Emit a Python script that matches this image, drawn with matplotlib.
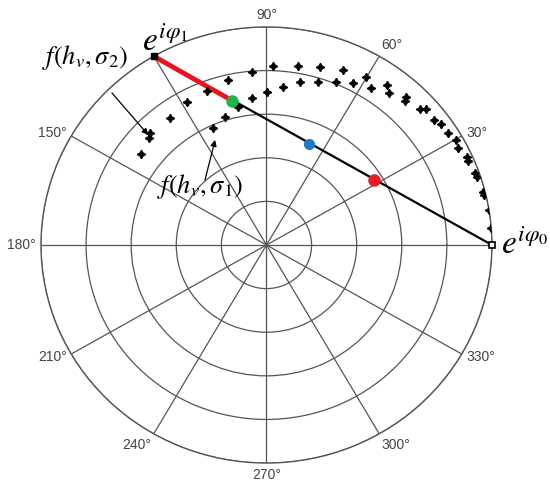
import numpy as np
import matplotlib
matplotlib.use('Agg')
import matplotlib.pyplot as plt

plt.rcParams['mathtext.fontset'] = 'stix'

# scattered points (angle in degrees, radius, outer circle = 1)
pts_theta = [94.6, 102.7, 110.5, 118.3, 126.3, 135.0, 136.5, 143.2,
             101.3, 107.4, 113.8, 95.4, 89.8, 84.2, 78.7, 73.0, 67.6,
             88.0, 80.3, 73.8, 67.1, 62.7, 60.2, 57.2, 53.9, 52.1, 47.6, 47.1,
             42.5, 41.4, 37.6, 35.6, 32.6, 29.8, 27.7, 24.4, 23.3, 19.6, 18.5,
             14.2, 13.4, 9.2, 4.5]
pts_r = [0.796, 0.776, 0.754, 0.745, 0.723, 0.728, 0.716, 0.696,
         0.646, 0.615, 0.587, 0.677, 0.702, 0.729, 0.762, 0.782, 0.809,
         0.822, 0.833, 0.850, 0.871, 0.836, 0.888, 0.856, 0.908, 0.884, 0.918, 0.902,
         0.923, 0.943, 0.938, 0.952, 0.955, 0.969, 0.959, 0.977, 0.973, 0.982, 0.984,
         0.990, 0.992, 1.0, 1.0]

# chord endpoints e^{i phi0}, e^{i phi1}
phi0 = 0.0
phi1 = 120.0
# coloured points on the chord (theta deg, r)
green_pt = (103.0, 0.68)
blue_pt = (68.0, 0.50)
red_pt = (32.0, 0.56)

rings = [0.2, 0.4, 0.6, 0.8, 1.0]
angles = np.arange(0, 360, 30)
# 0 and 120 are not labelled (the e^{i phi} labels sit there)
angle_labels = ['' if a in (0, 120) else '%d\u00b0' % a for a in angles]

fig = plt.figure(figsize=(5.5, 4.9), dpi=100)
ax = fig.add_axes([0.0745, 0.055, 0.82, 0.89], projection='polar')
ax.set_aspect('auto')
ax.set_ylim(0, 1.0)
ax.set_rticks(rings)
ax.set_yticklabels([])
ax.set_thetagrids(angles, [''] * len(angles))
ax.grid(True, color='#555555', lw=0.9, ls='-')
ax.spines['polar'].set_color('#555555')
ax.spines['polar'].set_linewidth(1.0)

# angle labels next to the spoke ends
for a, lab in zip(angles, angle_labels):
    if not lab:
        continue
    c, s = np.cos(np.radians(a)), np.sin(np.radians(a))
    ha = 'left' if c > 0.3 else ('right' if c < -0.3 else 'center')
    va = 'bottom' if s > 0.7 else ('top' if s < -0.7 else 'center')
    ax.annotate(lab, xy=(np.radians(a), 1.0), xycoords='data',
                xytext=(5 * c, 5 * s), textcoords='offset pixels',
                ha=ha, va=va, fontsize=10, color='#444444',
                family='Liberation Sans', annotation_clip=False)

d = np.radians
# black chord and red part
ax.plot([d(phi0), d(phi1)], [1.0, 1.0], color='black', lw=1.6, zorder=3)
ax.plot([d(phi1), d(green_pt[0])], [1.0, green_pt[1]], color='#e8141c', lw=3.5,
        zorder=4, solid_capstyle='butt')

ax.plot(np.radians(pts_theta), pts_r, ls='none', marker=(4, 1, 0), ms=6,
        color='black', zorder=5)

ax.plot(d(phi0), 1.0, marker='s', ms=5, mfc='white', mec='black', mew=1.2,
        zorder=6, clip_on=False)
ax.plot(d(phi1), 1.0, marker='s', ms=5, color='black', zorder=6, clip_on=False)

ax.plot(d(green_pt[0]), green_pt[1], 'o', ms=8, color='#22b04b', zorder=7)
ax.plot(d(blue_pt[0]), blue_pt[1], 'o', ms=7, color='#1f78c8', zorder=7)
ax.plot(d(red_pt[0]), red_pt[1], 'o', ms=8, color='#ec1c24', zorder=7)

fig.text(0.30, 0.915, r'$e^{i\varphi_1}$', fontsize=24, ha='center', va='center')
fig.text(0.955, 0.502, r'$e^{i\varphi_0}$', fontsize=24, ha='center', va='center')

fig.text(0.155, 0.882, r'$f(h_v,\sigma_2)$', fontsize=19, ha='center', va='center')
fig.text(0.364, 0.620, r'$f(h_v,\sigma_1)$', fontsize=19, ha='center', va='center')

arrow = dict(arrowstyle='-|>', color='black', lw=0.9, shrinkA=0, shrinkB=0,
             mutation_scale=9)
ax.annotate('', xy=(d(136.1), 0.728), xycoords='data',
            xytext=(112 / 550, 1 - 93 / 490), textcoords='figure fraction',
            arrowprops=arrow)
ax.annotate('', xy=(d(115.3), 0.533), xycoords='data',
            xytext=(205 / 550, 1 - 180 / 490), textcoords='figure fraction',
            arrowprops=arrow)

fig.savefig('out.png', dpi=100)
